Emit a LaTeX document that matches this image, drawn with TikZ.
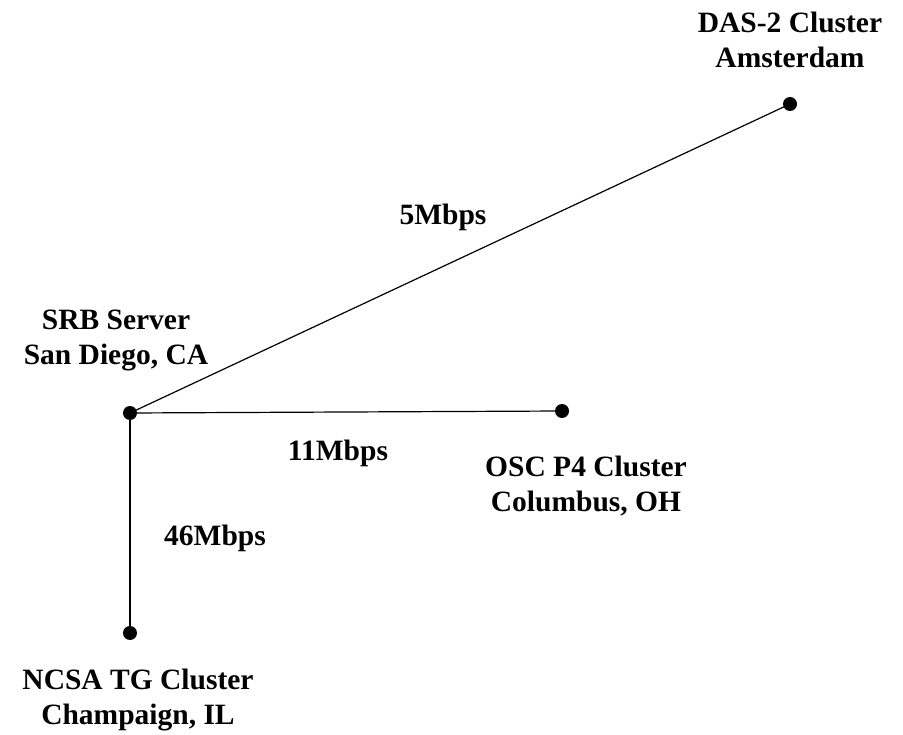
\documentclass[tikz,border=0pt]{standalone}
\usepackage{fontspec}
\setmainfont{Liberation Serif}
\begin{document}
\begin{tikzpicture}[x=1pt,y=-1pt,
  dot/.style={circle,fill=black,inner sep=0pt,minimum size=14pt},
  lbl/.style={font=\fontsize{29.5}{35}\selectfont\bfseries,align=center,inner sep=0pt},
  link/.style={draw=black,line width=1.2pt}]
\useasboundingbox[fill=white] (0,0) rectangle (903,735);
\node[dot] (srb) at (130,413) {};
\node[dot] (das) at (790,104) {};
\node[dot] (osc) at (562,411) {};
\node[dot] (ncsa) at (130,633) {};
\draw[link] (srb.center) -- (das.center);
\draw[link] (srb.center) -- (osc.center);
\draw[link] (srb.center) -- (ncsa.center);
\node[lbl] (ldas) at (790,40) {DAS-2 Cluster\\Amsterdam};
\node[lbl] (lsrb) at (116,340) {SRB Server\\San Diego, CA};
\node[lbl] (losc) at (586,486) {OSC P4 Cluster\\Columbus, OH};
\node[lbl] (lncsa) at (138,700) {NCSA TG Cluster\\Champaign, IL};
\node[lbl] (b5) at (443,217) {5Mbps};
\node[lbl] (b11) at (338,453) {11Mbps};
\node[lbl] (b46) at (215,538) {46Mbps};
\end{tikzpicture}
\end{document}
